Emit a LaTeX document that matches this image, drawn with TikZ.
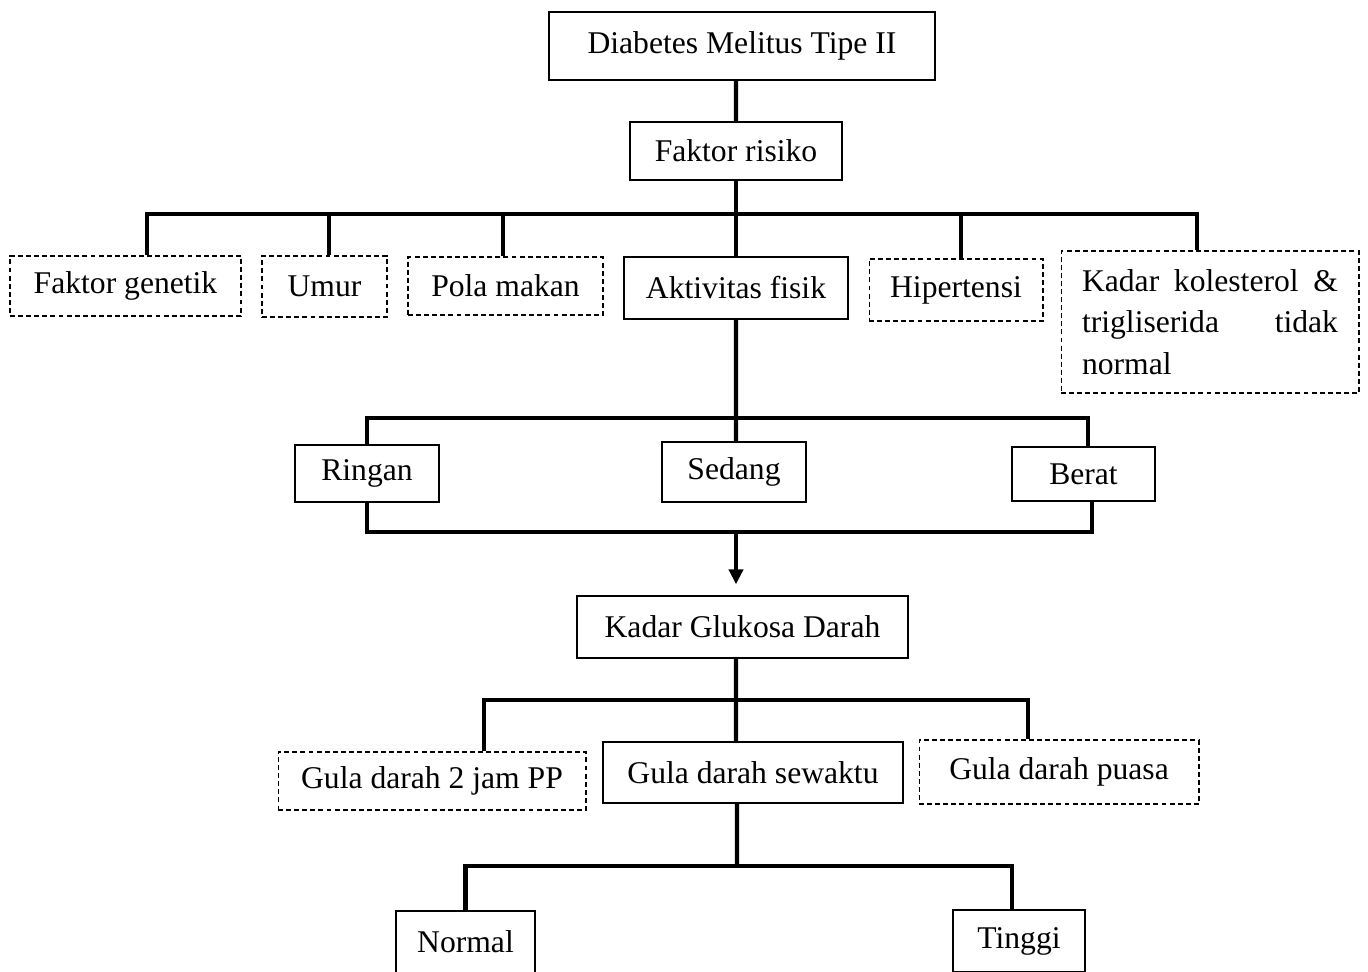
\documentclass[tikz,border=0pt]{standalone}
\usepackage{fontspec}
\setmainfont{Liberation Serif}
\usetikzlibrary{arrows.meta}

\begin{document}
\begin{tikzpicture}[x=0.02cm,y=-0.02cm]
\tikzstyle{every node}+=[inner sep=0pt,font=\fontsize{18}{23.5}\selectfont]
\tikzstyle{solidbox}=[draw,line width=0.75pt]
\tikzstyle{dashbox}=[draw,line width=0.6pt,dash pattern=on 2.8pt off 1.8pt]
\tikzstyle{bus}=[line width=2.3pt]
\clip (0,0) rectangle (1368,971);
\fill [white] (0,0) rectangle (1368,971);
% top
\node [solidbox,minimum width=7.72cm,minimum height=1.36cm] (dm) at (742,46) {Diabetes Melitus Tipe II};
\node [solidbox,minimum width=4.24cm,minimum height=1.16cm] (fr) at (736,151) {Faktor risiko};
% faktor risiko
\node [dashbox,minimum width=4.62cm,minimum height=1.2cm] (fg) at (125.5,286) {Faktor genetik};
\node [dashbox,minimum width=2.5cm,minimum height=1.22cm] (um) at (324.5,286.5) {Umur};
\node [dashbox,minimum width=3.9cm,minimum height=1.16cm] (pm) at (505.5,286) {Pola makan};
\node [solidbox,minimum width=4.48cm,minimum height=1.24cm] (af) at (736,288) {Aktivitas fisik};
\node [dashbox,minimum width=3.48cm,minimum height=1.24cm] (hp) at (956,290) {Hipertensi};
\node [dashbox,minimum width=5.96cm,minimum height=2.84cm,text width=5.12cm,align=left] (kk) at (1210,322)
  {\makebox[5.12cm][s]{Kadar\hfill kolesterol\hfill \&}\\\makebox[5.12cm][s]{trigliserida\hfill tidak}\\normal};
% aktivitas fisik
\node [solidbox,minimum width=2.88cm,minimum height=1.14cm] (ri) at (367,473.5) {Ringan};
\node [solidbox,minimum width=2.88cm,minimum height=1.2cm] (se) at (734,472) {Sedang};
\node [solidbox,minimum width=2.86cm,minimum height=1.08cm] (be) at (1083.5,474) {Berat};
% glukosa
\node [solidbox,minimum width=6.62cm,minimum height=1.24cm] (kg) at (742.5,627) {Kadar Glukosa Darah};
\node [dashbox,minimum width=6.16cm,minimum height=1.16cm] (g2) at (432,781) {Gula darah 2 jam PP};
\node [solidbox,minimum width=6.0cm,minimum height=1.22cm] (gs) at (753,772.5) {Gula darah sewaktu};
\node [dashbox,minimum width=5.6cm,minimum height=1.28cm] (gp) at (1059,772) {Gula darah puasa};
\node [solidbox,minimum width=2.78cm,minimum height=1.24cm] (no) at (465.5,942) {Normal};
\node [solidbox,minimum width=2.64cm,minimum height=1.24cm] (ti) at (1019,941) {Tinggi};
% junctions
\coordinate (j1) at (736,214);
\coordinate (j3) at (736,418);
\coordinate (j4) at (736,532);
\coordinate (j5) at (736,700);
\coordinate (j6) at (737,866);
% connectors
\draw [bus] ([xshift=-0.12cm]dm.south) -- (fr.north);
\draw [bus] (fr.south) -- (af.north);
\draw [bus] ([xshift=0.43cm]fg.north) |- (j1) -| ([xshift=-0.26cm]kk.north);
\draw [bus] (j1) -| ([xshift=0.09cm]um.north);
\draw [bus] (j1) -| ([xshift=-0.05cm]pm.north);
\draw [bus] (j1) -| ([xshift=0.1cm]hp.north);
\draw [bus] (af.south) -- ([xshift=0.04cm]se.north);
\draw [bus] (ri.north) |- (j3) -| ([xshift=0.09cm]be.north);
\draw [bus] (ri.south) |- (j4) -| ([xshift=0.17cm]be.south);
\draw [bus,-{Triangle[length=0.3cm,width=0.28cm]},shorten >=0.22cm] (j4) -- (j4 |- kg.north);
\draw [bus] ([xshift=-0.13cm]kg.south) -- ([xshift=-0.34cm]gs.north);
\draw [bus] ([xshift=1.04cm]g2.north) |- (j5) -| ([xshift=-0.62cm]gp.north);
\draw [bus] ([xshift=-0.32cm]gs.south) -- (j6);
\draw [bus] (no.north) |- (j6) -| ([xshift=-0.14cm]ti.north);
\end{tikzpicture}
\end{document}
